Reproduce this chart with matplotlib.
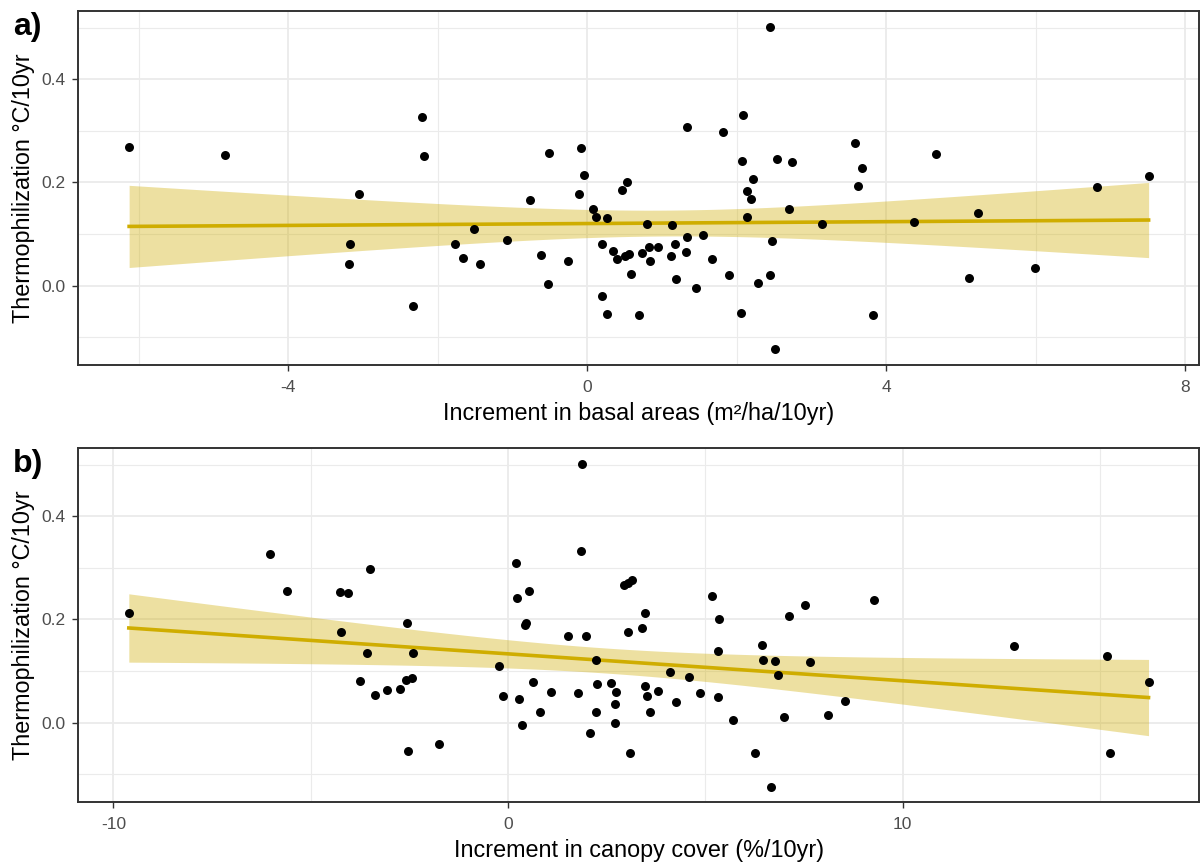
import numpy as np
import matplotlib.pyplot as plt
from matplotlib.ticker import MultipleLocator

# Panel a: increment in basal area vs thermophilization
basal_x = [-6.13, -4.85, -2.21, -2.19, -3.06, -3.18, -3.19, -2.33, -1.77, -1.52,
           -1.66, -1.44, -1.07, -0.76, -0.62, -0.51, -0.53, -0.26, -0.08, -0.04,
           -0.11, 0.07, 0.11, 0.20, 0.19, 0.27, 0.27, 0.34, 0.40, 0.46,
           0.53, 0.50, 0.56, 0.58, 0.69, 0.73, 0.80, 0.82, 0.84, 0.95,
           1.12, 1.13, 1.18, 1.19, 1.32, 1.33, 1.34, 1.46, 1.55, 1.67,
           1.81, 1.89, 2.05, 2.07, 2.08, 2.13, 2.13, 2.19, 2.22, 2.29,
           2.44, 2.44, 2.47, 2.51, 2.54, 2.70, 2.74, 3.14, 3.58, 3.62,
           3.67, 3.82, 4.37, 4.67, 5.11, 5.23, 5.99, 6.82, 7.51]
thermo_a = [0.269, 0.254, 0.327, 0.252, 0.178, 0.080, 0.041, -0.039, 0.080, 0.109,
            0.054, 0.041, 0.089, 0.166, 0.060, 0.257, 0.003, 0.048, 0.266, 0.214,
            0.178, 0.149, 0.134, 0.081, -0.021, 0.131, -0.056, 0.067, 0.052, 0.185,
            0.200, 0.058, 0.061, 0.022, -0.057, 0.063, 0.120, 0.075, 0.047, 0.075,
            0.058, 0.118, 0.080, 0.012, 0.065, 0.308, 0.095, -0.004, 0.098, 0.052,
            0.298, 0.020, -0.054, 0.242, 0.331, 0.183, 0.134, 0.167, 0.207, 0.005,
            0.502, 0.020, 0.087, -0.123, 0.245, 0.149, 0.239, 0.120, 0.277, 0.194,
            0.229, -0.057, 0.123, 0.255, 0.014, 0.140, 0.035, 0.191, 0.213]

# Panel b: increment in canopy cover vs thermophilization
canopy_x = [-9.61, -6.02, -5.61, -4.27, -4.05, -4.24, -3.51, -3.57, -3.75, -3.37,
            -3.07, -2.73, -2.57, -2.59, -2.44, -2.41, -2.54, -1.75, -0.23, -0.13,
            0.20, 0.22, 0.28, 0.35, 0.44, 0.46, 0.54, 0.62, 0.81, 1.09,
            1.52, 1.84, 1.88, 1.97, 1.78, 2.07, 2.22, 2.26, 2.22, 2.62,
            2.74, 2.72, 2.70, 3.10, 2.93, 3.04, 3.14, 3.05, 3.40, 3.48,
            3.46, 3.52, 3.59, 3.81, 4.11, 4.26, 4.58, 4.87, 5.17, 5.35,
            5.32, 5.32, 5.69, 6.27, 6.43, 6.46, 6.76, 6.67, 6.84, 6.99,
            7.12, 7.53, 7.64, 8.12, 8.53, 9.28, 12.83, 15.19, 15.26, 16.23]
thermo_b = [0.213, 0.326, 0.256, 0.254, 0.251, 0.176, 0.298, 0.134, 0.080, 0.053,
            0.064, 0.065, 0.193, 0.082, 0.087, 0.135, -0.056, -0.041, 0.109, 0.051,
            0.310, 0.241, 0.045, -0.005, 0.189, 0.193, 0.255, 0.078, 0.020, 0.060,
            0.167, 0.333, 0.502, 0.167, 0.057, -0.021, 0.121, 0.075, 0.020, 0.076,
            0.059, 0.036, 0.000, -0.058, 0.266, 0.271, 0.277, 0.176, 0.183, 0.213,
            0.071, 0.052, 0.020, 0.062, 0.099, 0.040, 0.088, 0.058, 0.246, 0.200,
            0.138, 0.049, 0.005, -0.059, 0.150, 0.121, 0.120, -0.124, 0.093, 0.010,
            0.206, 0.229, 0.117, 0.014, 0.042, 0.238, 0.148, 0.130, -0.058, 0.078]

line_col = '#CFAD00'
t95 = 1.991  # t quantile (0.975, ~78 df) for the lm confidence band


def lm_band(x, y, npts=80):
    x = np.asarray(x); y = np.asarray(y)
    b1, b0 = np.polyfit(x, y, 1)
    xs = np.linspace(x.min(), x.max(), npts)
    fit = b0 + b1 * xs
    n = len(x)
    s = np.sqrt(np.sum((y - (b0 + b1 * x)) ** 2) / (n - 2))
    se = s * np.sqrt(1 / n + (xs - x.mean()) ** 2 / np.sum((x - x.mean()) ** 2))
    return xs, fit, fit - t95 * se, fit + t95 * se


def panel(ax, x, y, xlabel, xmaj, xlim):
    xs, fit, lo, hi = lm_band(x, y)
    ax.fill_between(xs, lo, hi, color=line_col, alpha=0.37, lw=0, zorder=2)
    ax.plot(xs, fit, color=line_col, lw=2.6, zorder=3)
    ax.scatter(x, y, s=42, color='black', lw=0, zorder=4)
    ax.set_xlim(*xlim)
    ax.set_ylim(-0.154, 0.533)
    ax.xaxis.set_major_locator(MultipleLocator(xmaj))
    ax.xaxis.set_minor_locator(MultipleLocator(xmaj / 2))
    ax.yaxis.set_major_locator(MultipleLocator(0.2))
    ax.yaxis.set_minor_locator(MultipleLocator(0.1))
    ax.yaxis.set_major_formatter(lambda v, p: '%.1f' % v)
    ax.xaxis.set_major_formatter(lambda v, p: '%d' % v)
    ax.grid(True, which='major', color='#EBEBEB', lw=1.3, zorder=0)
    ax.grid(True, which='minor', color='#EBEBEB', lw=0.8, zorder=0)
    ax.set_axisbelow(True)
    ax.tick_params(which='major', length=4, width=1.0, color='#333333',
                   labelsize=12.5, labelcolor='#4D4D4D')
    ax.tick_params(axis='x', pad=6.5)
    ax.tick_params(axis='y', pad=5)
    ax.tick_params(which='minor', length=0)
    for sp in ax.spines.values():
        sp.set_color('#333333')
        sp.set_linewidth(1.4)
    ax.set_xlabel(xlabel, fontsize=16.8, color='black', labelpad=5)
    ax.set_ylabel('Thermophilization °C/10yr', fontsize=16.8, color='black', labelpad=5)


plt.rcParams['font.family'] = ['Liberation Sans', 'DejaVu Sans']
fig = plt.figure(figsize=(12.01, 8.65), dpi=100)
ax1 = fig.add_axes([0.0652, 0.578, 0.9335, 0.4096])
ax2 = fig.add_axes([0.0652, 0.0728, 0.9335, 0.4096])

panel(ax1, basal_x, thermo_a, 'Increment in basal areas (m²/ha/10yr)', 4, (-6.81, 8.19))
panel(ax2, canopy_x, thermo_b, 'Increment in canopy cover (%/10yr)', 10, (-10.89, 17.52))

fig.text(13 / 1201, 1 - 27 / 865, 'a)', fontsize=23, fontweight='bold', va='center')
fig.text(13 / 1201, 1 - 464 / 865, 'b)', fontsize=23, fontweight='bold', va='center')

fig.savefig('out.png', dpi=100)
